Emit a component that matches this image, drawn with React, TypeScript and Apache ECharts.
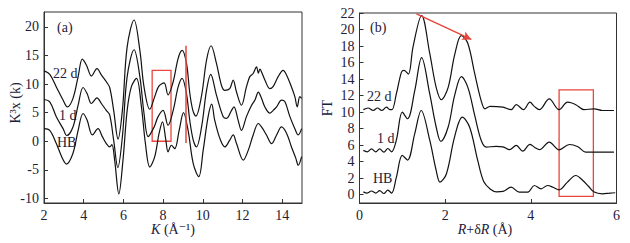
import React, { useEffect, useRef } from "react";
import * as echarts from "echarts";

// ---- Panel (a): k^3 chi(k) ----
const kHB = [2.0, 2.29, 2.62, 2.93, 3.13, 3.46, 3.72, 3.97, 4.17, 4.44, 4.72, 4.94, 5.14, 5.31, 5.42, 5.56, 5.77, 5.98, 6.19, 6.4, 6.66, 6.91, 7.11, 7.33, 7.58, 7.8, 7.97, 8.14, 8.25, 8.42, 8.59, 8.81, 9.03, 9.26, 9.52, 9.8, 10.02, 10.27, 10.45, 10.6, 10.86, 11.11, 11.36, 11.53, 11.7, 12.04, 12.29, 12.54, 12.8, 12.96, 13.21, 13.47, 13.72, 13.97, 14.22, 14.47, 14.69, 14.81, 14.98];
const chiHB = [2.2, 1.9, -0.4, -3.0, -4.0, -2.1, 1.9, 4.85, 3.7, 1.1, 2.2, 0.8, -0.4, -1.0, -0.6, -3.3, -9.2, -3.3, 5.4, 9.5, 11.0, 6.0, -0.4, -4.5, -2.7, 1.4, 3.4, 0.2, -1.85, -0.7, -1.3, 1.9, 5.0, 1.9, -3.9, -6.2, -1.6, 4.3, 6.5, 3.7, 0.5, -1.0, 0.2, 1.1, -0.4, -3.3, -1.6, 1.1, 3.1, 2.5, 1.1, -0.4, 1.1, 2.5, 1.4, -1.0, -3.0, -4.2, -2.7];

const k1d = [2.0, 2.29, 2.62, 2.96, 3.15, 3.46, 3.72, 3.97, 4.17, 4.39, 4.67, 4.89, 5.14, 5.31, 5.51, 5.72, 5.95, 6.19, 6.54, 6.83, 7.04, 7.25, 7.55, 7.75, 8.0, 8.25, 8.51, 8.76, 8.96, 9.18, 9.35, 9.52, 9.68, 9.94, 10.19, 10.4, 10.69, 11.03, 11.2, 11.45, 11.57, 11.78, 11.95, 12.2, 12.46, 12.63, 12.8, 12.96, 13.13, 13.38, 13.55, 13.72, 13.97, 14.14, 14.39, 14.64, 14.81, 14.98];
const chi1d = [7.3, 6.9, 4.3, 2.2, 1.0, 2.5, 6.3, 9.4, 8.35, 6.6, 7.6, 6.6, 5.4, 4.6, 0.2, -4.6, 0.8, 11.3, 16.0, 11.3, 4.85, 0.8, 2.5, 4.3, 5.4, 2.8, 5.4, 9.5, 11.0, 8.3, 3.5, 0.2, -1.0, 2.5, 8.9, 11.7, 8.06, 4.3, 4.0, 5.4, 6.0, 3.7, 1.9, 4.3, 6.3, 7.2, 8.6, 7.5, 6.0, 4.9, 5.4, 6.0, 7.2, 6.9, 4.3, 2.2, 1.1, 2.2];

const k22d = [2.0, 2.29, 2.62, 2.96, 3.18, 3.46, 3.72, 3.93, 4.14, 4.39, 4.67, 4.89, 5.14, 5.31, 5.51, 5.73, 5.95, 6.19, 6.54, 6.83, 7.04, 7.33, 7.58, 7.78, 8.05, 8.25, 8.51, 8.76, 8.96, 9.18, 9.35, 9.5, 9.65, 9.94, 10.19, 10.42, 10.69, 10.94, 11.11, 11.36, 11.53, 11.7, 11.95, 12.2, 12.37, 12.54, 12.71, 12.8, 12.88, 13.0, 13.13, 13.38, 13.55, 13.8, 14.05, 14.22, 14.47, 14.64, 14.76, 14.89, 14.98];
const chi22d = [12.3, 11.7, 9.5, 7.2, 6.0, 7.5, 11.3, 14.35, 13.3, 11.4, 12.7, 11.6, 10.4, 9.4, 5.4, 0.4, 5.4, 16.5, 21.2, 15.9, 9.5, 5.6, 7.8, 9.6, 10.2, 8.1, 10.4, 14.5, 15.9, 13.6, 8.3, 5.4, 4.4, 8.0, 14.2, 16.7, 13.6, 9.8, 8.9, 9.2, 10.7, 8.6, 6.3, 9.5, 11.3, 11.85, 13.0, 11.9, 12.6, 11.8, 10.7, 9.2, 9.6, 11.3, 12.4, 11.6, 9.5, 7.8, 6.0, 7.8, 7.5];

// ---- Panel (b): FT magnitude ----
const rHB = [0.09, 0.18, 0.28, 0.38, 0.47, 0.57, 0.66, 0.75, 0.86, 1.0, 1.12, 1.29, 1.44, 1.64, 1.79, 1.88, 2.03, 2.22, 2.4, 2.57, 2.76, 2.9, 3.05, 3.2, 3.35, 3.54, 3.73, 3.93, 4.08, 4.24, 4.39, 4.52, 4.66, 4.85, 5.05, 5.22, 5.35, 5.48, 5.67, 5.85, 5.97];
const ftHB = [0.35, 0.2, 0.45, 0.2, 0.5, 0.15, 0.55, 0.2, 2.1, 4.76, 4.2, 7.4, 10.2, 6.6, 2.95, 1.53, 2.54, 7.0, 9.4, 8.2, 4.16, 1.6, 0.7, 0.35, 0.4, 0.92, 0.32, 0.32, 1.12, 0.72, 1.12, 0.9, 0.6, 1.5, 2.33, 1.7, 1.0, 0.32, 0.11, 0.2, 0.24];

const r1d = [0.09, 0.18, 0.28, 0.38, 0.47, 0.57, 0.66, 0.75, 0.86, 1.0, 1.12, 1.29, 1.45, 1.64, 1.79, 1.9, 2.07, 2.22, 2.38, 2.53, 2.69, 2.84, 2.96, 3.19, 3.35, 3.5, 3.66, 3.81, 3.98, 4.1, 4.2, 4.43, 4.66, 4.9, 5.1, 5.28, 5.5, 5.67, 5.94];
const ft1d = [5.37, 5.2, 5.55, 5.2, 5.55, 5.15, 5.6, 5.2, 6.6, 10.0, 9.2, 12.6, 16.6, 12.2, 8.2, 6.46, 8.2, 12.0, 14.3, 13.0, 9.6, 6.6, 5.77, 5.85, 5.8, 5.45, 5.97, 5.28, 6.1, 5.7, 5.45, 6.37, 5.44, 6.08, 5.8, 5.16, 5.16, 5.16, 5.16];

const r22d = [0.09, 0.2, 0.32, 0.42, 0.52, 0.63, 0.71, 0.76, 0.86, 0.98, 1.04, 1.14, 1.25, 1.45, 1.64, 1.79, 1.91, 2.07, 2.22, 2.38, 2.53, 2.69, 2.84, 2.93, 3.05, 3.35, 3.54, 3.66, 3.83, 3.98, 4.08, 4.2, 4.43, 4.66, 4.86, 5.05, 5.24, 5.48, 5.67, 5.94];
const ft22d = [10.3, 10.5, 10.2, 10.5, 10.2, 10.6, 10.3, 10.3, 12.2, 14.85, 15.05, 14.6, 17.9, 21.7, 17.1, 13.0, 11.5, 13.0, 16.9, 19.3, 18.3, 14.65, 11.4, 10.4, 10.7, 10.6, 10.3, 10.9, 10.3, 11.2, 10.7, 10.3, 11.6, 10.3, 11.2, 10.9, 10.3, 10.4, 10.2, 10.2];

// annotation values (data coordinates)
const boxA = [[7.45, 0], [8.4, 12.4]];
const vlineA = [[9.15, -0.3], [9.15, 16.7]];
const boxB = [[4.66, -0.2], [5.46, 12.7]];
const arrowB = [[1.33, 21.9], [2.61, 18.8]];

const zip = (xs: number[], ys: number[]) => xs.map((x, i) => [x, ys[i]]);

const SERIF = "'Liberation Serif', 'DejaVu Serif', serif";
const LABEL = "#1d2038";
const RED = "#e8453c";
const FS = 14;

export default function App() {
  const ref = useRef<HTMLDivElement>(null);
  useEffect(() => {
    if (!ref.current) return;
    const chart = echarts.init(ref.current, undefined, { renderer: "svg" });
    const axisCommon = {
      type: "value",
      axisLine: { show: true, onZero: false, lineStyle: { color: "#333", width: 1 } },
      axisTick: { show: true, inside: true, length: 4, lineStyle: { color: "#333" } },
      splitLine: { show: false },
    };
    const lbl = { color: LABEL, fontFamily: SERIF, fontSize: FS };
    const line = (name: string, data: number[][], idx: number, extra: any = {}) => ({
      name,
      type: "line",
      xAxisIndex: idx,
      yAxisIndex: idx,
      data,
      smooth: 0.35,
      symbol: "none",
      clip: false,
      lineStyle: { color: "#111", width: 1.2 },
      ...extra,
    });
    const txt = (x: number, y: number, text: string, extra: any = {}) => ({
      type: "text",
      x,
      y,
      ...extra,
      style: { text, fill: LABEL, font: `${FS}px ${SERIF}`, verticalAlign: "middle", ...(extra.style || {}) },
    });
    const rich = { i: { fontStyle: "italic", fontFamily: SERIF, fontSize: FS, fill: LABEL } };
    const option: any = {
      animation: false,
      backgroundColor: "#fff",
      grid: [
        { left: 44, top: 12, width: 258, height: 191, show: true, borderColor: "#333", borderWidth: 1 },
        { left: 359.5, top: 13, width: 257, height: 190, show: true, borderColor: "#333", borderWidth: 1 },
      ],
      xAxis: [
        { ...axisCommon, gridIndex: 0, min: 2, max: 15, interval: 2, axisLabel: { ...lbl, margin: 5, showMaxLabel: false } },
        { ...axisCommon, gridIndex: 1, min: 0, max: 6, interval: 2, axisLabel: { ...lbl, margin: 5 } },
      ],
      yAxis: [
        { ...axisCommon, gridIndex: 0, min: -10.8, max: 22.6, minInterval: 5, maxInterval: 5, axisLabel: { ...lbl, margin: 5, showMinLabel: false, showMaxLabel: false } },
        { ...axisCommon, gridIndex: 1, min: -1, max: 22, minInterval: 2, maxInterval: 2, axisLabel: { ...lbl, margin: 5, showMinLabel: false } },
      ],
      series: [
        line("22 d (a)", zip(k22d, chi22d), 0),
        line("1 d (a)", zip(k1d, chi1d), 0),
        line("HB (a)", zip(kHB, chiHB), 0, {
          markArea: {
            silent: true,
            label: { show: false },
            itemStyle: { color: "rgba(0,0,0,0)", borderColor: RED, borderWidth: 1.3 },
            data: [[{ coord: boxA[0] }, { coord: boxA[1] }]],
          },
          markLine: {
            silent: true,
            symbol: "none",
            label: { show: false },
            lineStyle: { color: RED, width: 1.5, type: "solid" },
            data: [[{ coord: vlineA[0] }, { coord: vlineA[1] }]],
          },
        }),
        line("22 d (b)", zip(r22d, ft22d), 1, {
          markLine: {
            silent: true,
            symbol: ["none", "arrow"],
            symbolSize: [7, 9],
            label: { show: false },
            lineStyle: { color: RED, width: 1.5, type: "solid" },
            data: [[{ coord: arrowB[0] }, { coord: arrowB[1] }]],
          },
        }),
        line("1 d (b)", zip(r1d, ft1d), 1),
        line("HB (b)", zip(rHB, ftHB), 1, {
          markArea: {
            silent: true,
            label: { show: false },
            itemStyle: { color: "rgba(0,0,0,0)", borderColor: RED, borderWidth: 1.3 },
            data: [[{ coord: boxB[0] }, { coord: boxB[1] }]],
          },
        }),
      ],
      graphic: [
        txt(15, 103, "K³x (k)", { rotation: Math.PI / 2, style: { align: "center" } }),
        txt(173, 229, "{i|K} (Å⁻¹)", { style: { align: "center", rich } }),
        txt(327, 108, "FT", { rotation: Math.PI / 2, style: { align: "center" } }),
        txt(485, 229, "{i|R}+δ{i|R} (Å)", { style: { align: "center", rich } }),
        txt(57, 27, "(a)"),
        txt(53, 73, "22 d"),
        txt(59, 115, "1 d"),
        txt(57, 142, "HB"),
        txt(370, 27, "(b)"),
        txt(367, 96, "22 d"),
        txt(377, 138, "1 d"),
        txt(373, 178, "HB"),
      ],
    };
    chart.setOption(option);
    return () => chart.dispose();
  }, []);
  return <div ref={ref} style={{ width: 630, height: 243, position: "absolute", left: 0, top: 0 }} />;
}
